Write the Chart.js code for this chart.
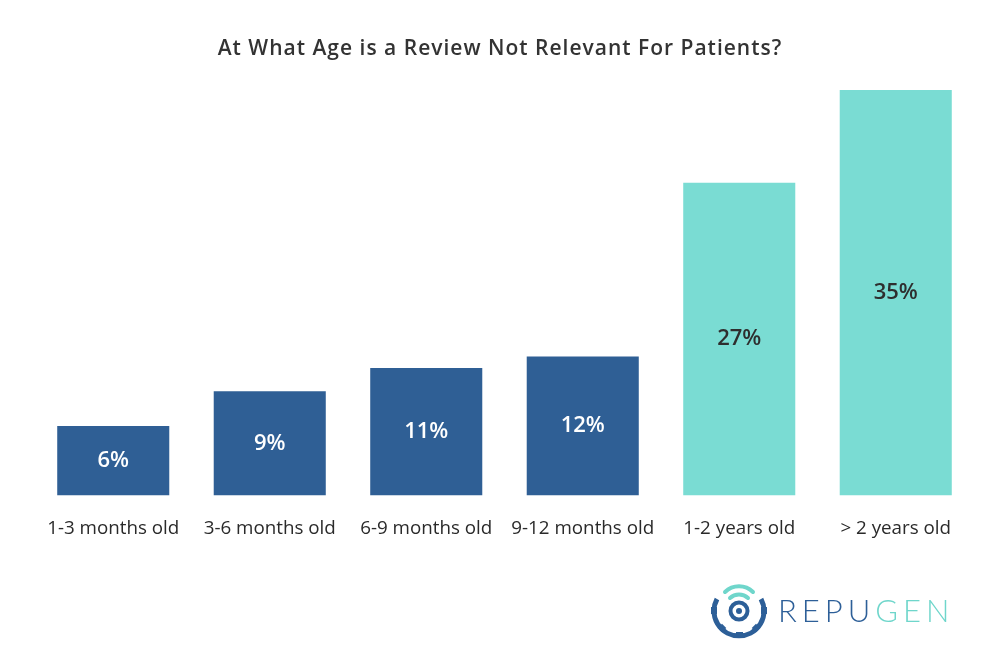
<!DOCTYPE html>
<html>
<head>
<meta charset="utf-8">
<script src="https://cdn.jsdelivr.net/npm/chart.js@4"></script>
<style>
  html, body { margin: 0; padding: 0; background: #fff; }
  #wrap { position: relative; width: 1000px; height: 669px; }
  #title { position: absolute; left: 0; top: 35px; width: 1000px; text-align: center; font-family: "Open Sans", sans-serif; font-weight: 600; font-size: 21px; line-height: 24px; letter-spacing: 1px; color: #333; }
  #logo { position: absolute; left: 706px; top: 578px; height: 62px; display: flex; align-items: center; }
  #logo svg { width: 66px; height: 62px; }
  #logo .txt { font-family: "Lato", sans-serif; font-weight: 300; font-size: 31px; letter-spacing: 5px; margin-left: 6px; margin-top: 2px; }
</style>
</head>
<body>
<div id="wrap">
  <canvas id="chart" width="1000" height="669"></canvas>
  <div id="title"></div>
  <div id="logo">
    <svg viewBox="0 0 66 62">
      <!-- wifi arcs -->
      <path d="M19 14 A20 20 0 0 1 47 14" fill="none" stroke="#6fd6cb" stroke-width="4" stroke-linecap="round"/>
      <path d="M24 20 A13 13 0 0 1 42 20" fill="none" stroke="#6fd6cb" stroke-width="4" stroke-linecap="round"/>
      <!-- target -->
      <circle cx="33" cy="33" r="8.5" fill="none" stroke="#2d5f98" stroke-width="4"/>
      <circle cx="33" cy="33" r="3" fill="#2d5f98"/>
      <!-- gear arc -->
      <path d="M11 21 A25 25 0 1 0 55 21" fill="none" stroke="#2d5f98" stroke-width="5"/>
      <rect x="5" y="29" width="6" height="7" fill="#2d5f98"/>
      <rect x="55" y="29" width="6" height="7" fill="#2d5f98"/>
      <rect x="30" y="54" width="7" height="6" fill="#2d5f98"/>
      <rect x="13" y="47" width="6" height="6" fill="#2d5f98" transform="rotate(45 16 50)"/>
      <rect x="47" y="47" width="6" height="6" fill="#2d5f98" transform="rotate(45 50 50)"/>
    </svg>
    <span class="txt"><span style="color:#2d5f98">REPU</span><span style="color:#6fd6cb">GEN</span></span>
  </div>
</div>
<script>
// Chart data
const categories = ['1-3 months old', '3-6 months old', '6-9 months old', '9-12 months old', '1-2 years old', '> 2 years old'];
const values = [6, 9, 11, 12, 27, 35];
const barColors = ['#2f5f95', '#2f5f95', '#2f5f95', '#2f5f95', '#7adcd3', '#7adcd3'];
const labelColors = ['#ffffff', '#ffffff', '#ffffff', '#ffffff', '#2e2e2e', '#2e2e2e'];
const titleText = 'At What Age is a Review Not Relevant For Patients?';

const fontFamily = '"Open Sans", "Noto Sans", sans-serif';
document.getElementById('title').textContent = titleText;

// Draw value labels in the middle of each bar
const barLabels = {
  id: 'barLabels',
  afterDatasetsDraw(chart) {
    const c = chart.ctx;
    const meta = chart.getDatasetMeta(0);
    c.save();
    c.font = '600 22px ' + fontFamily;
    c.textAlign = 'center';
    c.textBaseline = 'middle';
    meta.data.forEach((bar, i) => {
      c.fillStyle = labelColors[i];
      c.fillText(values[i] + '%', bar.x, (bar.y + bar.base) / 2);
    });
    c.restore();
  }
};

new Chart(document.getElementById('chart'), {
  type: 'bar',
  data: {
    labels: categories,
    datasets: [{
      data: values,
      backgroundColor: barColors,
      borderWidth: 0,
      barPercentage: 0.716,
      categoryPercentage: 1
    }]
  },
  options: {
    responsive: false,
    animation: false,
    layout: { padding: { left: 35, right: 26, top: 90, bottom: 107 } },
    scales: {
      y: { display: false, min: 0, max: 35 },
      x: {
        grid: { display: false, drawTicks: false },
        border: { display: false },
        ticks: { color: '#2a2a2a', padding: 22, font: { family: fontFamily, size: 18.8 } }
      }
    },
    plugins: {
      legend: { display: false },
      tooltip: { enabled: false },
      title: { display: false }
    }
  },
  plugins: [barLabels]
});
</script>
</body>
</html>
